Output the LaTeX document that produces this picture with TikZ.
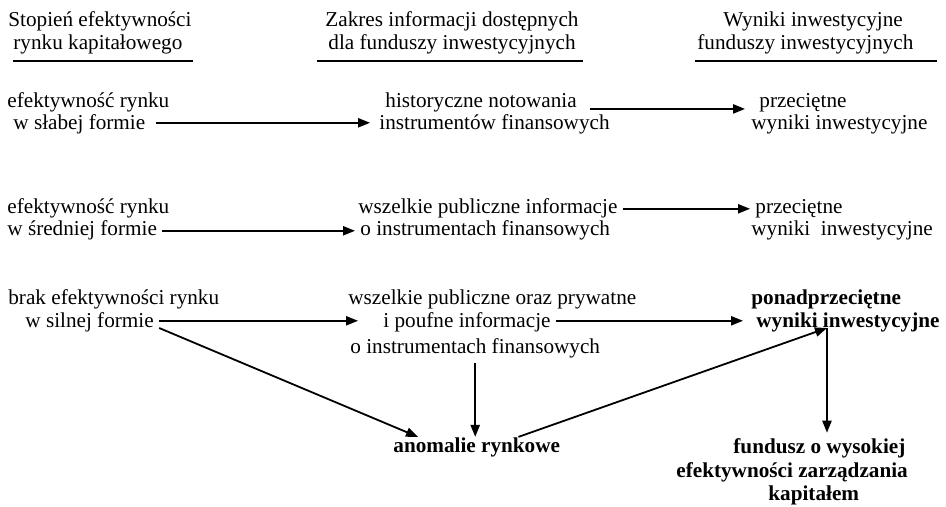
\documentclass[tikz,border=0pt]{standalone}
\usepackage{fontspec}
\setmainfont{Liberation Serif}
\usetikzlibrary{arrows.meta}
\begin{document}
\begin{tikzpicture}[x=0.5pt,y=-0.5pt,
    txt/.style={anchor=base west,inner sep=2.5pt,font=\fontsize{10.6}{12.7}\selectfont},
    bld/.style={txt,font=\fontsize{10.6}{12.7}\selectfont\bfseries},
    arr/.style={line width=0.9pt,-{Triangle[length=6pt,width=4.6pt]}},
    uline/.style={line width=0.7pt}]
    \useasboundingbox (0,0) rectangle (946,507);
    % naglowki kolumn
    \node[txt] (st1) at (3,27)   {Stopień efektywności};
    \node[txt] (st2) at (8,50)   {rynku kapitałowego};
    \node[txt] (zk1) at (320,27) {Zakres informacji dostępnych};
    \node[txt] (zk2) at (323,50) {dla funduszy inwestycyjnych};
    \node[txt] (wy1) at (718,27) {Wyniki inwestycyjne};
    \node[txt] (wy2) at (692,50) {funduszy inwestycyjnych};
    \draw[uline] (13,61)--(193,61);
    \draw[uline] (317,61)--(583,61);
    \draw[uline] (695,61)--(937,61);
    % forma slaba
    \node[txt] (ef1a) at (2,108)   {efektywność rynku};
    \node[txt] (ef1b) at (8,130)   {w słabej formie};
    \node[txt] (hi1)  at (380,108) {historyczne notowania};
    \node[txt] (hi2)  at (374,130) {instrumentów finansowych};
    \node[txt] (pr1a) at (754,108) {przeciętne};
    \node[txt] (pr1b) at (746,130) {wyniki inwestycyjne};
    \draw[arr,shorten <=2.5pt,shorten >=2pt] ([yshift=1pt]ef1b.east) -- ([yshift=1pt]ef1b.east -| hi2.west);
    \draw[arr,shorten <=4pt,shorten >=4.5pt] ([yshift=-3pt]hi1.east) -- ([yshift=-3pt]hi1.east -| pr1a.west);
    % forma srednia
    \node[txt] (ef2a) at (2,214)   {efektywność rynku};
    \node[txt] (ef2b) at (2,236)   {w średniej formie};
    \node[txt] (ws1)  at (353,214) {wszelkie publiczne informacje};
    \node[txt] (ws2)  at (355,236) {o instrumentach finansowych};
    \node[txt] (pr2a) at (750,214) {przeciętne};
    \node[txt] (pr2b) at (746,236) {wyniki\ \ inwestycyjne};
    \draw[arr] (ef2b.east) -- (ef2b.east -| ws2.west);
    \draw[arr] (ws1.east) -- (ws1.east -| pr2a.west);
    % forma silna
    \node[txt] (br1)  at (3,305)   {brak efektywności rynku};
    \node[txt] (br2)  at (20,328)  {w silnej formie};
    \node[txt] (wp1)  at (343,305) {wszelkie publiczne oraz prywatne};
    \node[txt] (wp2)  at (378,328) {i poufne informacje};
    \node[txt] (wp3)  at (345,353) {o instrumentach finansowych};
    \node[bld] (pon1) at (746,305) {ponadprzeciętne};
    \node[bld] (pon2) at (751,328) {wyniki inwestycyjne};
    \node[bld,inner ysep=0pt] (anom) at (388,452) {anomalie rynkowe};
    \node[bld] (fun1) at (728,453) {fundusz o wysokiej};
    \node[bld] (fun2) at (671,477) {efektywności zarządzania};
    \node[bld] (fun3) at (763,500) {kapitałem};
    \coordinate (hub) at ([xshift=-10.5pt]pon2.base);
    \draw[arr,shorten >=10pt] ([yshift=1pt]br2.east) -- ([yshift=1pt]br2.east -| wp2.west);
    \draw[arr] (br2.base east) -- ([xshift=15pt]anom.north west);
    \draw[arr] (wp3.south) -- (wp3.south |- anom.north);
    \draw[arr,shorten >=4pt] ([yshift=1pt]wp2.east) -- ([yshift=1pt]wp2.east -| pon2.west);
    \draw[arr] ([xshift=-23.5pt]anom.north east) -- (hub);
    \draw[arr] (hub) -- (hub |- fun1.north);
\end{tikzpicture}
\end{document}
